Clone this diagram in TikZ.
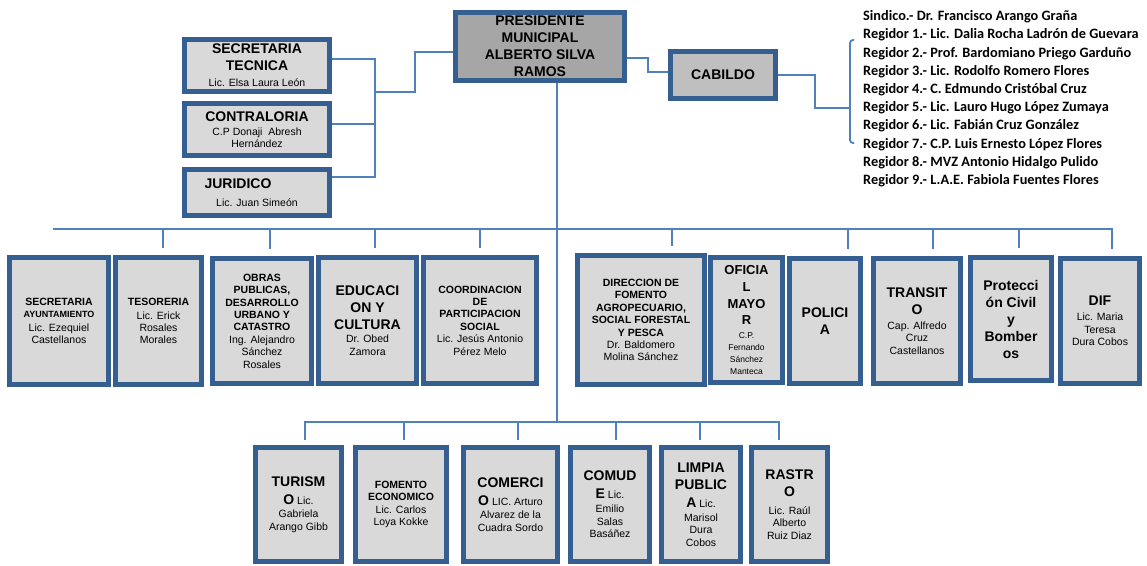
\documentclass[tikz,border=0pt]{standalone}
\usepackage{fontspec}
\setmainfont{Liberation Sans}
\newfontfamily\councilfont{Carlito}
\usetikzlibrary{calc}

\definecolor{frameblue}{RGB}{54,95,145}
\definecolor{linkblue}{RGB}{79,129,189}
\definecolor{boxgray}{RGB}{217,217,217}
\definecolor{headgray}{RGB}{166,166,166}
\definecolor{cabgray}{RGB}{191,191,191}

\newcommand\bigtitle{\fontsize{14}{17}\selectfont\bfseries}
\newcommand\midtitle{\fontsize{13}{16}\selectfont\bfseries}
\newcommand\smalltitle{\fontsize{10.5}{12.4}\selectfont\bfseries}
\newcommand\tinytitle{\fontsize{9}{12.4}\selectfont\bfseries}
\newcommand\namefont{\fontsize{10.5}{12.4}\selectfont\mdseries}

\begin{document}
\begin{tikzpicture}[x=1pt, y=-1pt,
  unit/.style={draw=frameblue, line width=5pt, fill=boxgray, align=center,
               inner sep=1pt, font=\namefont},
  head/.style={unit, fill=headgray, font=\bigtitle},
  sz/.style 2 args={minimum width=#1pt, minimum height=#2pt},
  link/.style={draw=linkblue, line width=1.8pt},
]
\useasboundingbox (0,0) rectangle (1147,565);

% top level
\node[head, sz={169}{68}] (pres) at (540,46.5) {PRESIDENTE\\MUNICIPAL\\ALBERTO SILVA\\RAMOS};
\node[unit, fill=cabgray, font=\bigtitle, sz={105}{47}] (cab) at (723,75) {CABILDO};
\node[anchor=north west, inner sep=0pt, align=left,
      font=\councilfont\bfseries\fontsize{14.3}{18.2}\selectfont] (council) at (863,10.5)
  {Sindico.- Dr. Francisco Arango Graña\\
   Regidor 1.- Lic. Dalia Rocha Ladrón de Guevara\\
   Regidor 2.- Prof. Bardomiano Priego Garduño\\
   Regidor 3.- Lic. Rodolfo Romero Flores\\
   Regidor 4.- C. Edmundo Cristóbal Cruz\\
   Regidor 5.- Lic. Lauro Hugo López Zumaya\\
   Regidor 6.- Lic. Fabián Cruz González\\
   Regidor 7.- C.P. Luis Ernesto López Flores\\
   Regidor 8.- MVZ Antonio Hidalgo Pulido\\
   Regidor 9.- L.A.E. Fabiola Fuentes Flores};

% staff
\node[unit, sz={145}{52}] (sect) at (257,65.5) {\bigtitle SECRETARIA\\[4.6pt] \bigtitle TECNICA\\[3.6pt] Lic. Elsa Laura León};
\node[unit, sz={145}{52}] (contra) at (257,129.5) {\bigtitle CONTRALORIA\\[1.6pt] C.P Donaji\ \ Abresh\\ Hernández};
\node[unit, sz={145}{46}] (jur) at (257,192.5) {\bigtitle JURIDICO\hspace*{38pt}\\[5.6pt] Lic. Juan Simeón};

% first row
\node[unit, sz={99}{127}] (secay) at (59,321) {\smalltitle SECRETARIA\\ \tinytitle AYUNTAMIENTO\\[1.5pt] Lic. Ezequiel\\ Castellanos};
\node[unit, sz={86}{127}] (teso) at (158.5,321) {\smalltitle TESORERIA\\[1.5pt] Lic. Erick\\ Rosales\\ Morales};
\node[unit, sz={99}{125}] (obras) at (262,321) {\smalltitle OBRAS\\ \smalltitle PUBLICAS,\\ \smalltitle DESARROLLO\\ \smalltitle URBANO Y\\ \smalltitle CATASTRO\\ Ing. Alejandro\\ Sánchez\\ Rosales};
\node[unit, sz={98}{126}] (educ) at (367.5,320.5) {\bigtitle EDUCACI\\[4.6pt] \bigtitle ON Y\\[4.6pt] \bigtitle CULTURA\\[0.6pt] Dr. Obed\\ Zamora};
\node[unit, sz={113}{126}] (coord) at (480,320.5) {\smalltitle COORDINACION\\ \smalltitle DE\\ \smalltitle PARTICIPACION\\ \smalltitle SOCIAL\\ Lic. Jesús Antonio\\ Pérez Melo};
\node[unit, sz={127}{129}] (dir) at (641,320) {\smalltitle DIRECCION DE\\ \smalltitle FOMENTO\\ \smalltitle AGROPECUARIO,\\ \smalltitle SOCIAL FORESTAL\\ \smalltitle Y PESCA\\ Dr. Baldomero\\ Molina Sánchez};
\node[unit, sz={72}{125}, font=\fontsize{8.5}{12}\selectfont] (ofic) at (746.5,320) {\midtitle OFICIA\\[4.7pt] \midtitle L\\[4.7pt] \midtitle MAYO\\[4.7pt] \midtitle R\\[1.5pt] C.P.\\ Fernando\\ Sánchez\\ Manteca};
\node[unit, sz={71}{125}, font=\bigtitle] (pol) at (825,321) {POLICI\\A};
\node[unit, sz={87}{125}] (trans) at (917,321) {\bigtitle TRANSIT\\[4.6pt] \bigtitle O\\[2.6pt] Cap. Alfredo\\ Cruz\\ Castellanos};
\node[unit, sz={81}{123}, font=\bigtitle] (prot) at (1011,319) {Protecci\\ón Civil\\y\\Bomber\\os};
\node[unit, sz={79}{125}] (dif) at (1100,321) {\bigtitle DIF\\[2.6pt] Lic. Maria\\ Teresa\\ Dura Cobos};

% second row
\node[unit, sz={86}{114}] (tur) at (298.5,504.5) {\bigtitle TURISM\\[5.6pt] \bigtitle O\namefont\ Lic.\\[0.6pt] Gabriela\\ Arango Gibb};
\node[unit, sz={91}{114}] (fom) at (401,504.5) {\smalltitle FOMENTO\\ \smalltitle ECONOMICO\\ Lic. Carlos\\ Loya Kokke};
\node[unit, sz={94}{114}] (com) at (510.5,504.5) {\bigtitle COMERCI\\[5.6pt] \bigtitle O\namefont\ LIC. Arturo\\[0.6pt] Alvarez de la\\ Cuadra Sordo};
\node[unit, sz={79}{114}] (comu) at (610,504.5) {\bigtitle COMUD\\[5.6pt] \bigtitle E\namefont\ Lic.\\[1.6pt] Emilio\\ Salas\\ Basáñez};
\node[unit, sz={79}{114}] (limp) at (701,504.5) {\bigtitle LIMPIA\\[4.6pt] \bigtitle PUBLIC\\[5.6pt] \bigtitle A\namefont\ Lic.\\[1.6pt] Marisol\\ Dura\\ Cobos};
\node[unit, sz={76}{114}] (ras) at (789.5,504.5) {\bigtitle RASTR\\[4.6pt] \bigtitle O\\[5.6pt] Lic. Raúl\\ Alberto\\ Ruiz Diaz};

% staff links
\coordinate (spine) at (375,92);
\draw[link] ($(pres.west)+(0,5.5)$) -- ++(-38,0) |- (spine);
\foreach \n/\dy in {sect/-6.5, contra/-5.5, jur/-15.5}
  \draw[link] ($(\n.east)+(0,\dy)$) -| (spine);

% cabildo and council
\coordinate (brace) at (850,108);
\coordinate (braceT) at (854,40);
\coordinate (braceB) at (854,143);
\draw[link] ($(pres.east)+(0,11.5)$) -- ++(21,0) |- ($(cab.west)+(0,-3)$);
\draw[link] (cab.east) -- ++(37,0) |- (brace);
\draw[link, rounded corners=3pt] (braceT) -| (brace) |- (braceB);

% buses
\coordinate (bus1) at (53,229);
\coordinate (bus2) at (557,422);
\draw[link] ($(pres.south)+(17,0)$) -- (bus2);
\foreach \n/\dx in {teso/4.5, obras/8, educ/7.5, coord/0, dir/31, pol/23, trans/16, prot/8, dif/12}
  \draw[link] (bus1) -| ($(\n.north)+(\dx,-7)$);
\foreach \n/\dx in {tur/6.5, fom/3, com/7.5, comu/6, limp/-1, ras/-10.5}
  \draw[link] (bus2) -| ($(\n.north)+(\dx,-5)$);
\end{tikzpicture}
\end{document}
